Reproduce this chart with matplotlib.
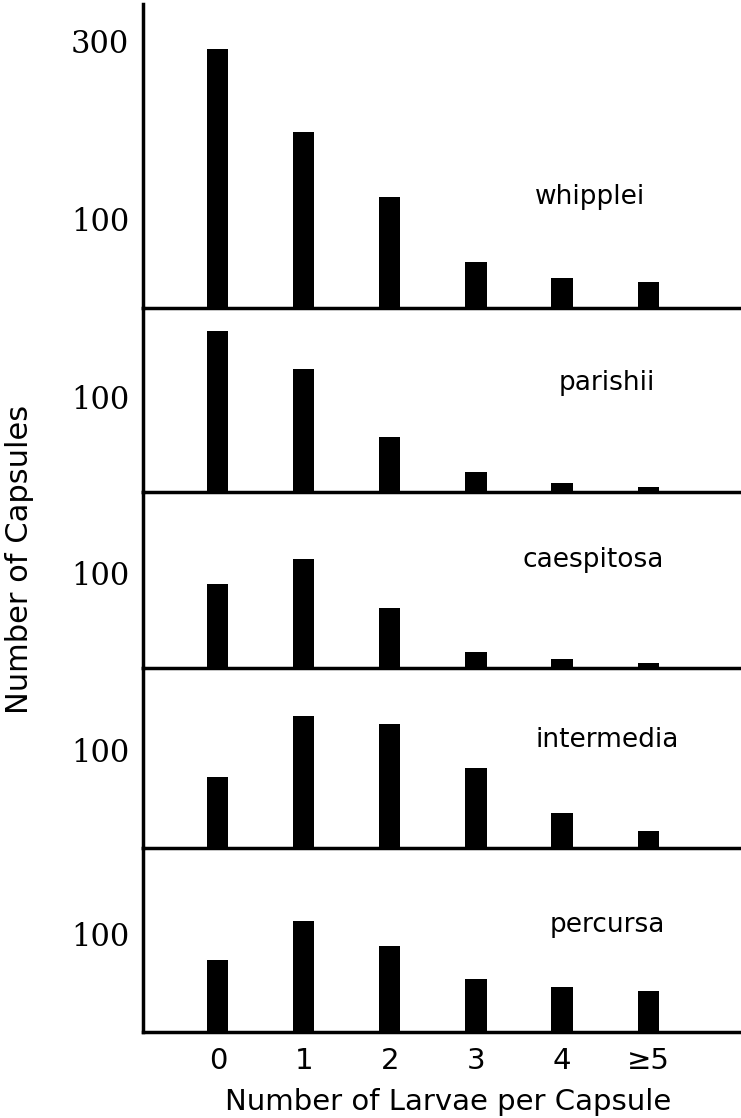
import matplotlib
matplotlib.use("Agg")
import matplotlib.pyplot as plt

categories = ["0", "1", "2", "3", "4", "≥5"]
species = ["whipplei", "parishii", "caespitosa", "intermedia", "percursa"]
whipplei = [291, 198, 125, 52, 34, 29]
parishii = [169, 129, 58, 21, 9, 5]
caespitosa = [88, 115, 63, 17, 9, 5]
intermedia = [72, 135, 127, 82, 36, 17]
percursa = [73, 113, 88, 54, 46, 42]
values = [whipplei, parishii, caespitosa, intermedia, percursa]
yticks = [[100, 300], [100], [100], [100], [100]]
ytop = [341.6, 193.7, 185.0, 183.7, 187.8]

W, H = 741, 1118
fig = plt.figure(figsize=(W / 100, H / 100), dpi=100)

# panel boundaries in pixel rows (top, baseline)
bounds = [(4, 308), (308, 492), (492, 668), (668, 848), (848, 1032)]
label_pos = [(0.747, 0.365), (0.776, 0.592), (0.753, 0.614), (0.776, 0.60), (0.776, 0.58)]

left_px = 143
x = list(range(len(categories)))
axes = []
for i, (top, base) in enumerate(bounds):
    ax = fig.add_axes([left_px / W, 1 - base / H, (W - left_px) / W, (base - top) / H])
    ax.bar(x, values[i], width=0.245, color="black", zorder=2)
    ax.set_xlim(-0.87, 6.08)
    ax.set_ylim(0, ytop[i])
    for s in ["top", "right"]:
        ax.spines[s].set_visible(False)
    for s in ["left", "bottom"]:
        ax.spines[s].set_linewidth(2.5)
        ax.spines[s].set_color("black")
    ax.set_yticks(yticks[i])
    ax.set_yticklabels([str(t) for t in yticks[i]], family="DejaVu Serif", fontsize=22)
    ax.tick_params(axis="y", length=0, pad=10)
    if i < len(bounds) - 1:
        ax.set_xticks([])
    else:
        ax.set_xticks(x)
        ax.set_xticklabels(categories, fontsize=21)
        ax.tick_params(axis="x", length=0, pad=11)
    ax.text(label_pos[i][0], label_pos[i][1], species[i], transform=ax.transAxes,
            ha="center", va="center", fontsize=19, family="DejaVu Sans")
    ax.patch.set_alpha(0)
    axes.append(ax)

fig.text(448 / W, 1 - 1102 / H, "Number of Larvae per Capsule", ha="center", va="center",
         fontsize=21)
fig.text(20 / W, 1 - 559 / H, "Number of Capsules", ha="center", va="center",
         rotation=90, fontsize=22)

fig.savefig("out.png", dpi=100)
